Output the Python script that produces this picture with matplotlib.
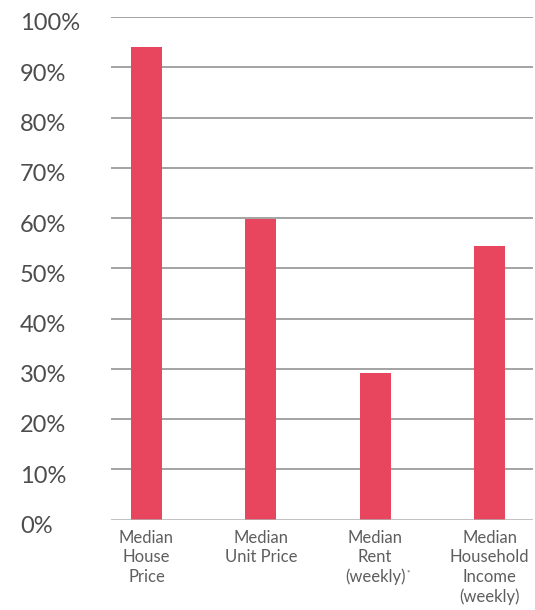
import matplotlib
matplotlib.use("Agg")
import matplotlib.pyplot as plt
import matplotlib.transforms as mtransforms

categories = ["Median\nHouse\nPrice", "Median\nUnit Price", "Median\nRent\n(weekly)",
              "Median\nHousehold\nIncome\n(weekly)"]
footnote_marks = ["", "", "*", ""]
values = [94.0, 59.8, 29.1, 54.4]
yticks = [0, 10, 20, 30, 40, 50, 60, 70, 80, 90, 100]
ytick_labels = [f"{v}%" for v in yticks]

plt.rcParams['font.family'] = ['Lato', 'DejaVu Sans']

fig = plt.figure(figsize=(5.35, 6.10), dpi=100)
ax = fig.add_axes([111/535, 1 - 519.5/610, 422/535, (519.5 - 17)/610])

x = list(range(len(values)))
ax.bar(x, values, width=0.27, color="#e8465e", zorder=3)

ax.set_xlim(-0.31, 3.38)
ax.set_ylim(0, 100)

for v in yticks[1:]:
    ax.axhline(v, color="#8a8a8a", lw=1.1, zorder=1)
ax.axhline(0, color="#b0b0b0", lw=1.8, zorder=4)

for s in ax.spines.values():
    s.set_visible(False)
ax.set_xticks([])
ax.set_yticks([])

offset = mtransforms.ScaledTranslation(0, -7/100, fig.dpi_scale_trans)
for v, lab in zip(yticks, ytick_labels):
    ax.text(-0.2156, v, lab, transform=ax.get_yaxis_transform() + offset,
            ha="left", va="center", fontsize=17, color="#4d4d4d", fontweight="normal")

texts = []
for xi, lab in zip(x, categories):
    t = ax.text(xi, -2.0, lab, ha="center", va="top", fontsize=12, color="#5e5e5e",
                linespacing=1.27)
    texts.append(t)

fig.canvas.draw()
renderer = fig.canvas.get_renderer()
inv = fig.transFigure.inverted()
for t, mark in zip(texts, footnote_marks):
    if mark:
        bb = t.get_window_extent(renderer)
        px, py = inv.transform((bb.x1 + 1, bb.y0 + 9))
        fig.text(px, py, mark, fontsize=6, color="#5e5e5e", ha="left", va="bottom")

fig.savefig("out.png", dpi=100)
